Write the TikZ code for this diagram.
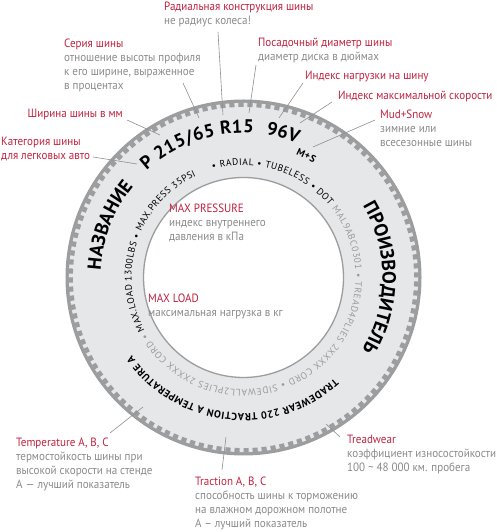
\documentclass[tikz,border=0pt]{standalone}
\usepackage{fontspec}
\setmainfont{PT Sans}
\newfontfamily\lblfont[FakeStretch=0.92]{PT Sans}
\usetikzlibrary{decorations.text}
\definecolor{lblred}{HTML}{C0223F}
\definecolor{lblgray}{HTML}{8A8A8A}
\definecolor{linegray}{HTML}{8F8F8F}
\definecolor{bandgray}{HTML}{9C9D9F}
\definecolor{ringfill}{HTML}{E6E7E8}
\definecolor{innergray}{HTML}{9A9A9A}
\newcommand\tbig{\fontsize{18.5}{18.5}\selectfont\bfseries}
\newcommand\tname{\fontsize{19}{19}\selectfont\bfseries}
\newcommand\tbottom{\fontsize{10.3}{10.3}\selectfont\bfseries}
\newcommand\tms{\fontsize{10}{10}\selectfont\bfseries}
\newcommand\tinner{\fontsize{9.5}{9.5}\selectfont}
\begin{document}
\begin{tikzpicture}[x=1pt,y=1pt,
  lbl/.style={inner sep=0pt, align=left, text=lblgray, font=\lblfont\fontsize{12}{14}\selectfont},
  leader/.style={draw=linegray, line width=0.6pt},
  ringtext/.style={decorate, decoration={text along path, text align={fit to path}, text={#1}}}]
\useasboundingbox (0,0) rectangle (496,532);
\begin{scope}[shift={(243.5,254.5)}]
  \fill[bandgray] (0,0) circle[radius=178];
  \fill[ringfill] (0,0) circle[radius=174.6];
  \foreach \i in {0,...,119} {
    \pgfmathsetmacro\a{\i*3}
    \pgfmathsetmacro\b{\i*3+1.7}
    \fill[bandgray] (\a:170.6) arc[start angle=\a, end angle=\b, radius=170.6]
      -- (\b:175) arc[start angle=\b, end angle=\a, radius=175] -- cycle;
  }
  \fill[white] (0,0) circle[radius=100];
  \draw[bandgray, line width=1.3pt] (0,0) circle[radius=100];
  % outer big text
  \path[ringtext={|\tbig|P 215/65 R15}] (132:144.5) arc[start angle=132, end angle=86, radius=144.5];
  \path[ringtext={|\tbig|96V}] (81:144.5) arc[start angle=81, end angle=69, radius=144.5];
  \path[ringtext={|\tms|M+S}] (67:134) arc[start angle=67, end angle=58.5, radius=134];
  \path[ringtext={|\tname|НАЗВАНИЕ}] (177:143) arc[start angle=177, end angle=142, radius=143];
  \path[ringtext={|\tname|ПРОИЗВОДИТЕЛЬ}] (31:139) arc[start angle=31, end angle=-31, radius=139];
  \path[ringtext={|\tbottom|TRADEWEAR 220 TRACTION A TEMPERATURE A}] (-48:136) arc[start angle=-48, end angle=-145, radius=136];
  % inner small text
  \path[ringtext={|\tinner|MAX.LOAD 1300LBS • MAX.PRESS 35PSI}] (208:112) arc[start angle=208, end angle=115, radius=112];
  \path[ringtext={|\tinner|• RADIAL • TUBELESS • DOT}] (106:112) arc[start angle=106, end angle=40, radius=112];
  \path[ringtext={|\tinner\color{innergray}|MAL9ABC0301 • TREAD4PLIES 2XXXX CORD • SIDEWALL2PLIES 2XXXX CORD •}] (38:112) arc[start angle=38, end angle=-150, radius=112];
\end{scope}
% labels (base anchor = baseline of last line)
\node[lbl, anchor=base west] (n1) at (164,507) {\textcolor{lblred}{Радиальная конструкция шины}\\не радиус колеса!};
\node[lbl, anchor=base west] (n2) at (258,471) {\textcolor{lblred}{Посадочный диаметр шины}\\диаметр диска в дюймах};
\node[lbl, anchor=base west] (n3) at (305,452) {\textcolor{lblred}{Индекс нагрузки на шину}};
\node[lbl, anchor=base west] (n4) at (338,432) {\textcolor{lblred}{Индекс максимальной скорости}};
\node[lbl, anchor=base west] (n5) at (380,385) {\textcolor{lblred}{Mud+Snow}\\зимние или\\всесезонные шины};
\node[lbl, anchor=base west] (n6) at (64,442) {\textcolor{lblred}{Серия шины}\\отношение высоты профиля\\к его ширине, выраженное\\в процентах};
\node[lbl, anchor=base east] (n7) at (123,414) {\textcolor{lblred}{Ширина шины в мм}};
\node[lbl, anchor=base west, text=lblred] (n8) at (1,372) {Категория шины\\для легковых авто};
\node[lbl, anchor=base west] (n9) at (169,291) {\textcolor{lblred}{MAX PRESSURE}\\индекс внутреннего\\давления в кПа};
\node[lbl, anchor=base west] (n10) at (148,215.3) {\textcolor{lblred}{MAX LOAD}\\максимальная нагрузка в кг};
\node[lbl, anchor=base west] (n11) at (16,43.3) {\textcolor{lblred}{Temperature A, B, C}\\термостойкость шины при\\высокой скорости на стенде\\А — лучший показатель};
\node[lbl, anchor=base west] (n12) at (195,5) {\textcolor{lblred}{Traction A, B, C}\\способность шины к торможению\\на влажном дорожном полотне\\А – лучший показатель};
\node[lbl, anchor=base west] (n13) at (347,60) {\textcolor{lblred}{Treadwear}\\коэффициент износостойкости\\100 \textasciitilde{} 48 000 км. пробега};
% leader coordinates
\coordinate (a1) at (218,500); \coordinate (b1) at (223,417);
\coordinate (a2) at (256,467); \coordinate (b2) at (249,419);
\coordinate (a3) at (303,449); \coordinate (b3) at (279,414);
\coordinate (a4) at (332,430); \coordinate (b4) at (300,409);
\coordinate (a5) at (375,412); \coordinate (b5) at (313,385);
\coordinate (a6) at (183,449); \coordinate (b6) at (199,414);
\coordinate (a7) at (127,412); \coordinate (b7) at (160,397);
\coordinate (a8) at (93,375);  \coordinate (b8) at (137,368);
\coordinate (a11) at (110,99); \coordinate (b11) at (143,125);
\coordinate (a12) at (222,62); \coordinate (b12) at (226,95);
\coordinate (a13) at (340,95); \coordinate (b13) at (326,108);
\foreach \k in {1,2,3,4,5,6,7,8,11,12,13} { \draw[leader] (a\k) -- (b\k); }
\end{tikzpicture}
\end{document}
